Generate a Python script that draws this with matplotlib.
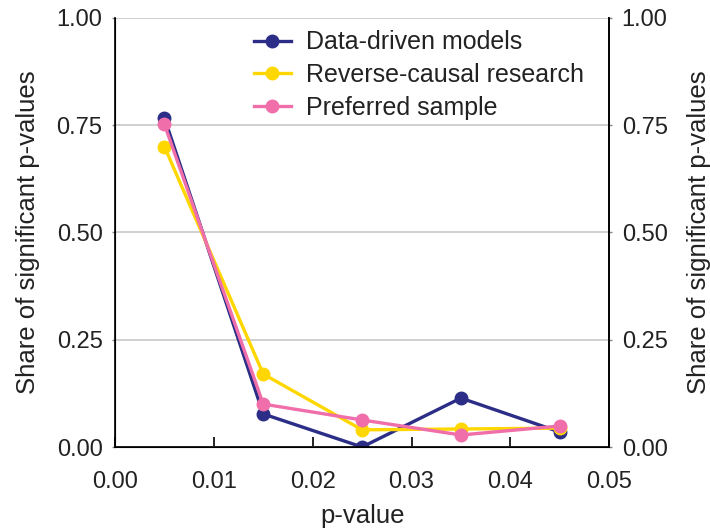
import matplotlib
matplotlib.use("Agg")
import matplotlib.pyplot as plt

plt.rcParams["font.family"] = ["Liberation Sans", "DejaVu Sans"]
plt.rcParams["text.color"] = "#222222"
plt.rcParams["xtick.labelcolor"] = "#222222"
plt.rcParams["ytick.labelcolor"] = "#222222"
plt.rcParams["axes.labelcolor"] = "#222222"

p_values = [0.005, 0.015, 0.025, 0.035, 0.045]
data_driven = [0.767, 0.077, 0.0, 0.114, 0.035]
reverse_causal = [0.70, 0.17, 0.04, 0.042, 0.044]
preferred_sample = [0.752, 0.10, 0.063, 0.028, 0.049]
y_ticks = [0.0, 0.25, 0.5, 0.75, 1.0]
x_ticks = [0.0, 0.01, 0.02, 0.03, 0.04, 0.05]

fig, ax = plt.subplots(figsize=(7.1, 5.29), dpi=100)
fig.subplots_adjust(left=0.162, right=0.858, top=0.966, bottom=0.155)

series = [
    ("Data-driven models", data_driven, "#2b2d86"),
    ("Reverse-causal research", reverse_causal, "#ffd700"),
    ("Preferred sample", preferred_sample, "#f06ea9"),
]
for label, vals, color in series:
    ax.plot(p_values, vals, color=color, lw=2.4, marker="o", ms=9, label=label)

fs = 17
lfs = 18.5
ax.set_xlim(0, 0.05)
ax.set_ylim(0, 1)
ax.set_xticks(x_ticks)
ax.set_xticklabels([f"{v:.2f}" for v in x_ticks])
ax.set_yticks(y_ticks)
ax.set_yticklabels([f"{v:.2f}" for v in y_ticks])
ax.grid(axis="y", color="#c8c8c8", lw=1.2)
ax.set_axisbelow(True)
ax.tick_params(axis="x", direction="in", length=7, width=1.2, labelsize=fs, pad=17)
ax.tick_params(axis="y", length=2, width=1.0, color="#888888", labelsize=fs, pad=7)
for s in ["left", "right", "bottom"]:
    ax.spines[s].set_linewidth(1.2)
ax.spines["top"].set_visible(False)
ax.set_xlabel("p-value", fontsize=lfs, labelpad=8)
ax.set_ylabel("Share of significant p-values", fontsize=lfs, labelpad=12)

ax2 = ax.twinx()
ax2.set_ylim(0, 1)
ax2.set_yticks(y_ticks)
ax2.set_yticklabels([f"{v:.2f}" for v in y_ticks])
ax2.tick_params(axis="y", length=2, width=1.0, color="#888888", labelsize=fs, pad=7)
ax2.spines["top"].set_visible(False)
ax2.spines["right"].set_linewidth(1.2)
ax2.set_ylabel("Share of significant p-values", fontsize=lfs, labelpad=14)

ax.legend(loc="upper left", bbox_to_anchor=(0.255, 1.0), frameon=False,
          fontsize=18, handlelength=1.5, handletextpad=0.6,
          labelspacing=0.35, borderaxespad=0.1)

fig.savefig("out.png", dpi=100)
